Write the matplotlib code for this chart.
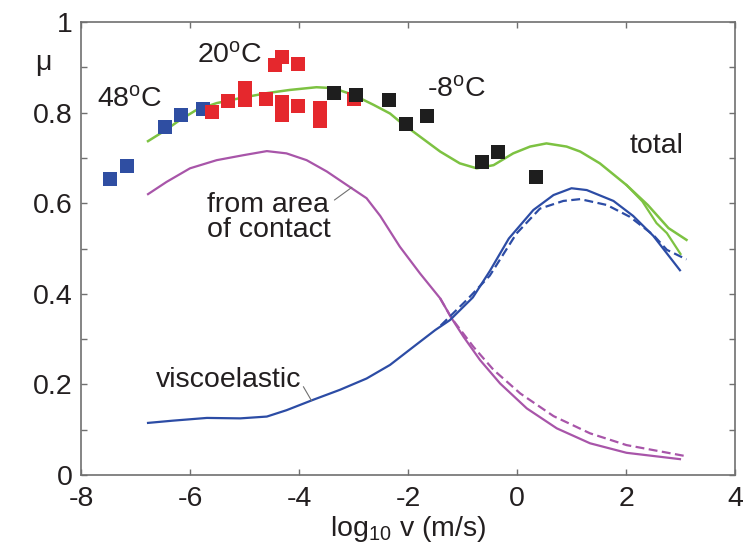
import matplotlib
matplotlib.use('Agg')
import matplotlib.pyplot as plt

plt.rcParams['font.family'] = ['Liberation Sans', 'DejaVu Sans']
plt.rcParams['mathtext.fontset'] = 'custom'
plt.rcParams['mathtext.rm'] = 'Liberation Sans'
plt.rcParams['mathtext.it'] = 'Liberation Sans:italic'
plt.rcParams['axes.unicode_minus'] = False
plt.rcParams['font.size'] = 20.5

# measured points (log10 v, mu)
hot_x = [-7.47, -7.16, -6.46, -6.17, -5.77]
hot_y = [0.653, 0.683, 0.769, 0.795, 0.809]
room_x = [-5.60, -5.30, -5.00, -5.00, -4.61, -4.31, -4.31, -4.44, -4.31, -4.01, -4.01, -3.61, -3.61, -3.00]
room_y = [0.801, 0.826, 0.854, 0.828, 0.829, 0.823, 0.795, 0.905, 0.922, 0.907, 0.815, 0.810, 0.782, 0.829]
cold_x = [-3.35, -2.96, -2.34, -2.04, -1.66, -0.64, -0.35, 0.34]
cold_y = [0.843, 0.839, 0.828, 0.774, 0.793, 0.691, 0.713, 0.657]

# model curves
total_x = [-6.77, -6.49, -6.18, -5.88, -5.51, -5.08, -4.59, -4.17, -3.68, -3.37, -3.00, -2.63,
           -2.33, -2.15, -1.78, -1.41, -1.05, -0.74, -0.43, -0.07, 0.24, 0.54, 0.91, 1.16,
           1.52, 2.01, 2.40, 2.78, 3.11]
total_y = [0.737, 0.758, 0.784, 0.806, 0.821, 0.832, 0.843, 0.850, 0.856, 0.854, 0.839, 0.817,
           0.798, 0.780, 0.747, 0.714, 0.688, 0.677, 0.684, 0.710, 0.725, 0.732, 0.725, 0.714,
           0.688, 0.640, 0.596, 0.545, 0.519]
total2_x = [2.01, 2.30, 2.56, 2.75, 3.00]
total2_y = [0.640, 0.604, 0.556, 0.534, 0.488]

visco_x = [-6.77, -6.31, -5.69, -5.08, -4.59, -4.23, -3.74, -3.25, -2.76, -2.33, -1.90, -1.50,
           -1.23, -0.81, -0.50, -0.15, 0.30, 0.67, 1.00, 1.28, 1.77, 2.13, 2.50, 2.99]
visco_y = [0.115, 0.120, 0.126, 0.125, 0.129, 0.143, 0.166, 0.188, 0.213, 0.243, 0.283, 0.320,
           0.342, 0.392, 0.450, 0.522, 0.585, 0.618, 0.633, 0.629, 0.605, 0.572, 0.528, 0.452]
visco2_x = [-1.40, -0.90, -0.50, -0.01, 0.42, 0.85, 1.16, 1.65, 2.07, 2.50, 2.75, 3.11]
visco2_y = [0.330, 0.389, 0.440, 0.533, 0.588, 0.605, 0.609, 0.596, 0.570, 0.530, 0.497, 0.476]

contact_x = [-6.77, -6.43, -6.00, -5.51, -5.02, -4.59, -4.23, -3.86, -3.49, -3.12, -2.76, -2.51,
             -2.15, -1.78, -1.41, -1.20, -0.98, -0.68, -0.31, 0.18, 0.73, 1.34, 2.01, 2.99]
contact_y = [0.620, 0.647, 0.677, 0.695, 0.706, 0.715, 0.710, 0.695, 0.670, 0.640, 0.611, 0.572,
             0.504, 0.445, 0.390, 0.346, 0.305, 0.254, 0.202, 0.147, 0.103, 0.070, 0.049, 0.035]
contact2_x = [-1.41, -1.20, -0.80, -0.43, 0.06, 0.67, 1.34, 2.01, 3.08]
contact2_y = [0.390, 0.346, 0.283, 0.232, 0.180, 0.130, 0.092, 0.066, 0.042]

xticks = [-8, -6, -4, -2, 0, 2, 4]
yticks = [0, 0.2, 0.4, 0.6, 0.8, 1]
yticklabels = ['0', '0.2', '0.4', '0.6', '0.8', '1']

green = '#7dc242'
blue = '#2c4ca5'
magenta = '#a855a9'
grey = '#707070'
txt = '#231f20'

fig = plt.figure(figsize=(7.53, 5.5), dpi=100)
ax = fig.add_axes([81 / 753, 75 / 550, 654 / 753, 453 / 550])

ax.plot(contact_x, contact_y, color=magenta, lw=1.6)
ax.plot(contact2_x, contact2_y, color=magenta, lw=1.6, ls=(0, (4, 2)))
ax.plot(visco_x, visco_y, color=blue, lw=1.6)
ax.plot(visco2_x, visco2_y, color=blue, lw=1.6, ls=(0, (4, 2)))
ax.plot(total_x, total_y, color=green, lw=1.8)
ax.plot(total2_x, total2_y, color=green, lw=1.6)

ms = 10
ax.plot(hot_x, hot_y, 's', color='#2f4ea2', ms=ms, mew=0)
ax.plot(room_x, room_y, 's', color='#e5282d', ms=ms, mew=0)
ax.plot(cold_x, cold_y, 's', color='#1e1e1e', ms=ms, mew=0)

ax.set_xlim(-8, 4)
ax.set_ylim(0, 1)
ax.set_xticks(xticks)
ax.set_yticks(yticks)
ax.set_yticklabels(yticklabels)
ax.set_yticks([0.1, 0.3, 0.5, 0.7, 0.9], minor=True)
ax.tick_params(which='both', direction='in', top=True, right=True, length=4.5,
               width=1, color=grey, labelcolor=txt)
ax.tick_params(axis='x', pad=8)
ax.tick_params(axis='y', pad=6)
for s in ax.spines.values():
    s.set_color(grey)
    s.set_linewidth(1.2)

ax.set_xlabel(r'log$_{10}$ v (m/s)', color=txt, labelpad=1)
ax.text(-0.058, 0.909, 'μ', transform=ax.transAxes, ha='center', va='center', color=txt)

ax.text(-7.71, 0.828, r'48$^{\rm o}$C', ha='left', va='center', color=txt)
ax.text(-5.88, 0.925, r'20$^{\rm o}$C', ha='left', va='center', color=txt)
ax.text(-1.66, 0.850, r'-8$^{\rm o}$C', ha='left', va='center', color=txt)
ax.text(2.07, 0.727, 'total', ha='left', va='center', color=txt)
ax.text(-5.69, 0.569, 'from area\nof contact', ha='left', va='center', color=txt, linespacing=0.95)
ax.text(-6.62, 0.210, 'viscoelastic', ha='left', va='center', color=txt)

ax.annotate('', xy=(-3.03, 0.635), xytext=(-3.35, 0.607),
            arrowprops=dict(arrowstyle='-', color=grey, lw=0.8, shrinkA=0, shrinkB=0))
ax.annotate('', xy=(-3.77, 0.164), xytext=(-3.92, 0.195),
            arrowprops=dict(arrowstyle='-', color=grey, lw=0.8, shrinkA=0, shrinkB=0))

fig.savefig('out.png', dpi=100)
